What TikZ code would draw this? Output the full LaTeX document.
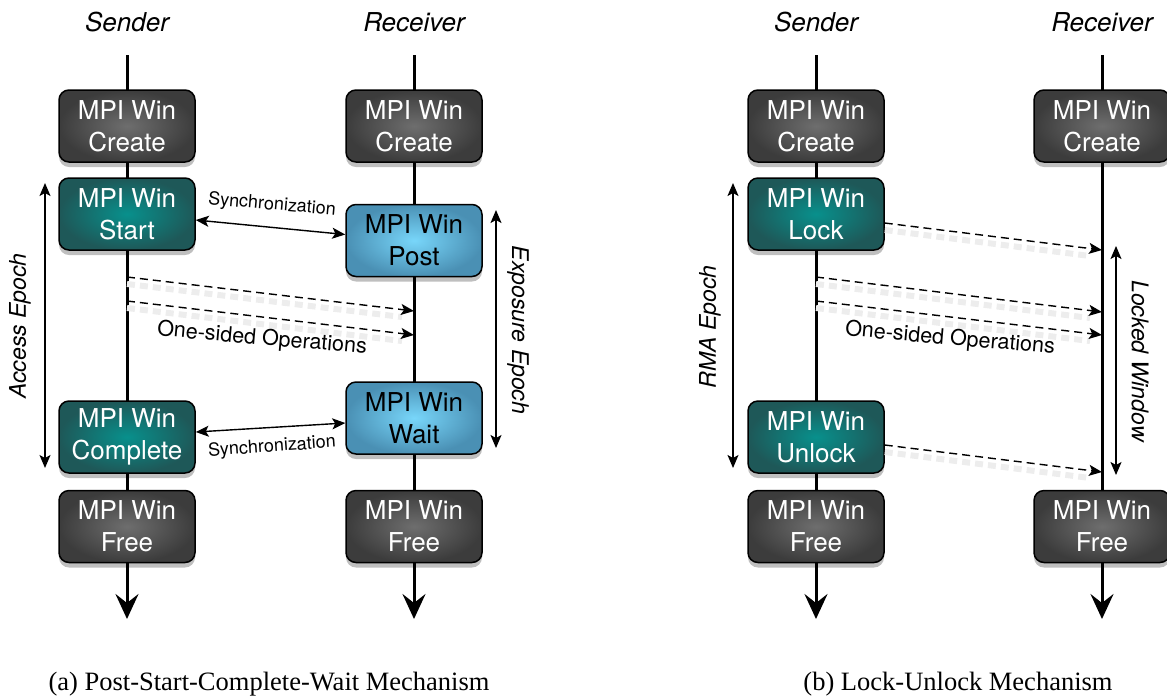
\documentclass[tikz,border=0pt]{standalone}
\usepackage{fontspec}
\setsansfont{TeX Gyre Heros}
\setmainfont{Liberation Serif}
\usetikzlibrary{arrows.meta,shadows,calc}

\definecolor{dkin}{HTML}{6E6E6E}
\definecolor{dkout}{HTML}{3C3C3C}
\definecolor{tlin}{HTML}{08908C}
\definecolor{tlout}{HTML}{1E5858}
\definecolor{blin}{HTML}{78D6FA}
\definecolor{blout}{HTML}{4A90B4}

\tikzset{
  box/.style={draw=black, line width=1.5pt, rounded corners=10pt,
    minimum width=136pt, minimum height=72pt, inner sep=0pt, align=center,
    font=\sffamily\fontsize{26}{32}\selectfont,
    drop shadow={shadow xshift=0pt, shadow yshift=-5pt, opacity=.25, fill=black}},
  darkbox/.style={box, inner color=dkin, outer color=dkout, text=white},
  tealbox/.style={box, inner color=tlin, outer color=tlout, text=white},
  bluebox/.style={box, inner color=blin, outer color=blout, text=black},
  lifeline/.style={line width=3pt, -{Stealth[length=25pt,width=23pt,inset=9pt]}},
  epoch/.style={line width=1.4pt, {Stealth[length=13pt,width=11pt,inset=3pt]}-{Stealth[length=13pt,width=11pt,inset=3pt]}},
  syncarrow/.style={line width=1.4pt, {Stealth[length=13pt,width=11pt,inset=3pt]}-{Stealth[length=13pt,width=11pt,inset=3pt]}},
  oparrow/.style={line width=1.4pt, dash pattern=on 8pt off 5pt, -{Stealth[length=13pt,width=11pt,inset=3pt]}},
  opshade/.style={line width=6pt, draw=black!7, dash pattern=on 8pt off 5pt,
    transform canvas={yshift=-7pt}},
  heading/.style={font=\sffamily\itshape\fontsize{26}{30}\selectfont},
  synclabel/.style={font=\sffamily\fontsize{18}{20}\selectfont},
  oplabel/.style={font=\sffamily\fontsize{21.5}{25}\selectfont},
  epochlabel/.style={font=\sffamily\itshape\fontsize{23}{27}\selectfont},
  caption/.style={font=\rmfamily\fontsize{26.5}{30}\selectfont}
}

\begin{document}
\begin{tikzpicture}[x=1pt,y=-1pt]
\useasboundingbox (0,0) rectangle (1167,697);

% ---------- (a) Post-Start-Complete-Wait ----------
\node[heading] (aSender) at (127,22) {Sender};
\node[heading] (aReceiver) at (414,22) {Receiver};

\coordinate (aSTop) at (127,55);
\coordinate (aSBot) at (127,619);
\coordinate (aRTop) at (414,55);
\coordinate (aRBot) at (414,619);
\draw[lifeline] (aSTop) -- (aSBot);
\draw[lifeline] (aRTop) -- (aRBot);

\node[darkbox] (aSCreate) at (127,126) {MPI Win\\Create};
\node[tealbox] (aSStart) at (127,214) {MPI Win\\Start};
\node[tealbox] (aSComplete) at (127,437) {MPI Win\\Complete};
\node[darkbox] (aSFree) at (127,526.5) {MPI Win\\Free};

\node[darkbox] (aRCreate) at (414,126) {MPI Win\\Create};
\node[bluebox] (aRPost) at (414,240.5) {MPI Win\\Post};
\node[bluebox] (aRWait) at (414,418) {MPI Win\\Wait};
\node[darkbox] (aRFree) at (414,526.5) {MPI Win\\Free};

% synchronisation between the two sides
\draw[syncarrow] ([yshift=-6pt]aSStart.east) -- ([yshift=6pt]aRPost.west);
\node[synclabel, rotate=-5] (aSync1) at (272,205) {Synchronization};
\draw[syncarrow] ([yshift=5pt]aSComplete.east) -- ([yshift=-5pt]aRWait.west);
\node[synclabel, rotate=4] (aSync2) at (272,447) {Synchronization};

% one-sided operations
\coordinate (aOp1s) at (127,277);
\coordinate (aOp1e) at (414,311);
\coordinate (aOp2s) at (127,301);
\coordinate (aOp2e) at (414,335);
\draw[opshade] (aOp1s) -- ($(aOp1e)+(-12,-1)$);
\draw[opshade] (aOp2s) -- ($(aOp2e)+(-12,-1)$);
\draw[oparrow] (aOp1s) -- (aOp1e);
\draw[oparrow] (aOp2s) -- (aOp2e);
\node[oplabel, rotate=-5] (aOps) at (262,339) {One-sided Operations};

% epochs
\coordinate (aAccTop) at (45,183);
\coordinate (aAccBot) at (45,468);
\draw[epoch] (aAccTop) -- (aAccBot);
\node[epochlabel, rotate=90] (aAccess) at (20,326) {Access Epoch};
\coordinate (aExpTop) at (496,210);
\coordinate (aExpBot) at (496,448);
\draw[epoch] (aExpTop) -- (aExpBot);
\node[epochlabel, rotate=-90] (aExposure) at (518,330) {Exposure Epoch};

\node[caption] (capA) at (269,684) {(a) Post-Start-Complete-Wait Mechanism};

% ---------- (b) Lock-Unlock ----------
\node[heading] (bSender) at (816,22) {Sender};
\node[heading] (bReceiver) at (1102,22) {Receiver};

\coordinate (bSTop) at (816,55);
\coordinate (bSBot) at (816,619);
\coordinate (bRTop) at (1102,55);
\coordinate (bRBot) at (1102,619);
\draw[lifeline] (bSTop) -- (bSBot);
\draw[lifeline] (bRTop) -- (bRBot);

\node[darkbox] (bSCreate) at (816,126) {MPI Win\\Create};
\node[tealbox] (bSLock) at (816,214) {MPI Win\\Lock};
\node[tealbox] (bSUnlock) at (816,437) {MPI Win\\Unlock};
\node[darkbox] (bSFree) at (816,526.5) {MPI Win\\Free};

\node[darkbox] (bRCreate) at (1102,126) {MPI Win\\Create};
\node[darkbox] (bRFree) at (1102,526.5) {MPI Win\\Free};

\coordinate (bLockEnd) at (1102,250);
\coordinate (bUnlockEnd) at (1102,472);
\coordinate (bOp1s) at (816,277);
\coordinate (bOp1e) at (1102,312);
\coordinate (bOp2s) at (816,301);
\coordinate (bOp2e) at (1102,335);
\draw[opshade] ([yshift=-9pt]bSLock.east) -- ($(bLockEnd)+(-12,-1)$);
\draw[opshade] (bOp1s) -- ($(bOp1e)+(-12,-1)$);
\draw[opshade] (bOp2s) -- ($(bOp2e)+(-12,-1)$);
\draw[opshade] ([yshift=-8pt]bSUnlock.east) -- ($(bUnlockEnd)+(-12,-1)$);
\draw[oparrow] ([yshift=-9pt]bSLock.east) -- (bLockEnd);
\draw[oparrow] (bOp1s) -- (bOp1e);
\draw[oparrow] (bOp2s) -- (bOp2e);
\draw[oparrow] ([yshift=-8pt]bSUnlock.east) -- (bUnlockEnd);
\node[oplabel, rotate=-5] (bOps) at (950,339) {One-sided Operations};

\coordinate (bRmaTop) at (733,183);
\coordinate (bRmaBot) at (733,468);
\draw[epoch] (bRmaTop) -- (bRmaBot);
\node[epochlabel, rotate=90] (bRma) at (710,327) {RMA Epoch};
\coordinate (bLwTop) at (1116,246);
\coordinate (bLwBot) at (1116,475);
\draw[epoch] (bLwTop) -- (bLwBot);
\node[epochlabel, rotate=-90] (bLocked) at (1140,361) {Locked Window};

\node[caption] (capB) at (958,684) {(b) Lock-Unlock Mechanism};
\end{tikzpicture}
\end{document}
